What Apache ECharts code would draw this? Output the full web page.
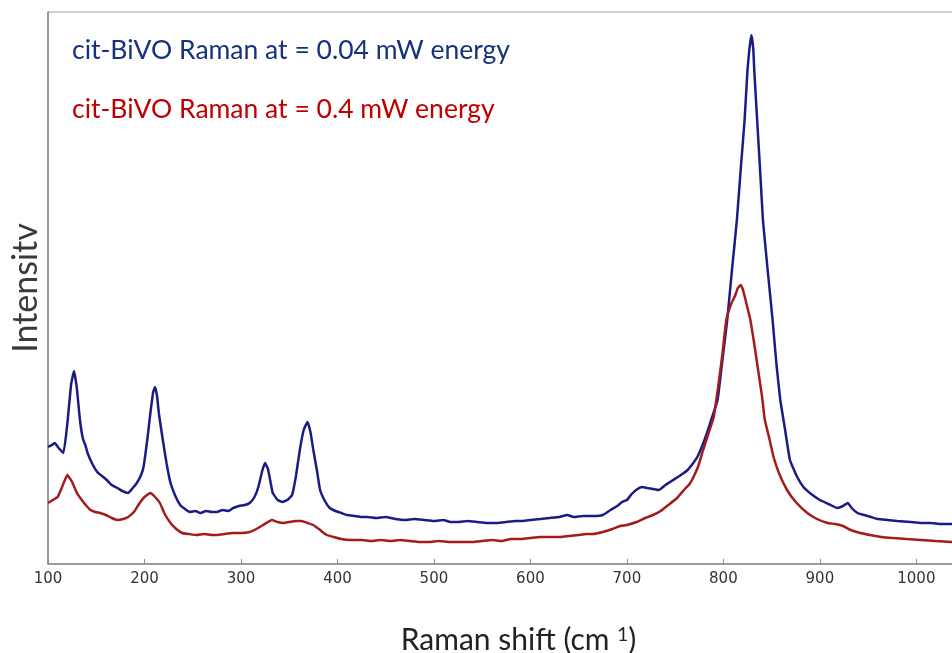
<!DOCTYPE html>
<html>
<head>
<meta charset="utf-8">
<title>cit-BiVO Raman spectra</title>
<script src="https://cdn.jsdelivr.net/npm/echarts@6/dist/echarts.min.js"></script>
<style>
  html, body { margin: 0; padding: 0; background: #ffffff; }
  #chart { width: 952px; height: 653px; }
</style>
</head>
<body>
<div id="chart"></div>
<script>
// Raman shift (cm-1) and intensity (a.u.) for the low-power spectrum (0.04 mW)
const lowShift = [100,104,107,111,116,120,124,127,130,133,136,139,141,146,151,156,161,166,172,177,183,187,192,196,199,203,206,209,211,213,215,219,223,227,232,237,242,247,253,258,264,270,275,281,287,292,298,304,309,314,318,322,325,328,331,333,338,343,348,353,357,361,365,369,372,375,379,382,387,392,398,404,410,418,425,431,440,450,460,470,480,490,500,510,517,525,535,545,555,566,575,585,592,600,610,620,630,638,645,655,665,675,683,690,695,700,705,711,716,721,727,733,740,748,756,763,768,773,778,783,788,794,799,804,809,814,818,822,825,827,829,831,832,835,838,841,846,851,855,859,864,869,876,883,891,900,909,918,924,929,933,939,946,953,960,970,980,994,1005,1015,1025,1037];
const lowCounts = [117,119,121,116,111,140,180,193,175,145,126,118,111,100,92,88,84,79,76,73,71,75,81,88,97,125,150,172,177,168,150,124,100,81,68,59,55,52,53,51,53,52,52,54,53,56,58,59,61,67,77,93,101,95,80,71,64,62,64,69,88,114,134,142,132,114,92,74,63,56,53,51,49,48,47,47,46,47,45,44,45,44,43,44,42,42,43,42,41,41,42,43,43,44,45,46,47,49,47,48,48,49,54,58,62,64,70,75,77,76,75,74,79,84,89,94,100,107,118,131,146,164,204,244,295,344,395,444,494,515,529,515,494,444,395,344,293,244,200,164,134,104,88,77,70,64,60,56,58,61,56,51,49,47,45,44,43,42,41,41,40,40];

// Raman shift (cm-1) and intensity (a.u.) for the high-power spectrum (0.4 mW)
const highShift = [100,105,110,115,120,125,130,135,140,144,149,154,160,166,172,178,183,189,195,200,206,211,216,221,227,233,239,246,254,262,270,275,283,291,300,309,316,323,328,332,338,344,350,357,363,369,375,382,389,396,404,413,425,435,445,455,465,475,485,495,505,517,530,540,550,560,570,580,590,600,610,621,631,640,650,658,665,675,685,693,700,710,719,727,735,743,752,760,765,769,774,779,784,790,795,799,803,808,812,815,818,820,822,824,828,832,836,840,843,848,852,858,866,875,887,897,908,916,924,932,942,952,964,976,990,1005,1020,1037];
const highCounts = [61,64,67,78,89,82,71,64,58,54,52,51,49,46,44,45,47,52,61,67,71,67,61,50,41,35,31,30,29,30,29,29,30,31,31,32,35,39,42,44,42,41,42,43,43,41,39,34,29,27,25,24,24,23,24,23,24,23,22,22,23,22,22,22,23,24,23,25,25,26,27,27,27,28,29,30,30,32,35,38,39,42,46,49,53,59,66,75,80,87,98,114,129,147,180,210,244,260,268,276,279,275,268,260,244,220,194,168,144,124,107,90,74,62,51,45,41,40,38,34,31,29,27,26,25,24,23,22];

// Axis settings
const shiftMin = 100;
const shiftMax = 1038;
const shiftStep = 100;
const countsMax = 552;

const seriesNames = ['cit-BiVO Raman at = 0.04 mW energy', 'cit-BiVO Raman at = 0.4 mW energy'];
const lineColors = ['#1b1b86', '#a31c1c'];
const labelColors = ['#14337a', '#c00000'];

const pairs = (xs, ys) => xs.map((x, i) => [x, ys[i]]);

const chart = echarts.init(document.getElementById('chart'), null, { renderer: 'canvas' });

chart.setOption({
  animation: false,
  backgroundColor: '#ffffff',
  grid: {
    left: 48, right: -1, top: 12, bottom: 89,
    outerBoundsMode: 'none',
    show: true, borderColor: '#a0a0a0', borderWidth: 1, backgroundColor: 'transparent'
  },
  legend: {
    orient: 'vertical',
    left: 62, top: 32,
    itemWidth: 0, itemHeight: 0, itemGap: 32,
    selectedMode: false,
    textStyle: { fontFamily: 'Lato', fontSize: 26.5 },
    data: seriesNames.map((n, i) => ({ name: n, icon: 'none', textStyle: { color: labelColors[i] } }))
  },
  xAxis: {
    type: 'value',
    min: shiftMin, max: shiftMax, interval: shiftStep,
    name: 'Raman shift (cm {s|1})',
    nameLocation: 'middle', nameGap: 61,
    nameTextStyle: {
      fontFamily: 'Lato', fontSize: 30, color: '#222',
      padding: [0, 0, 0, 36],
      rich: { s: { fontFamily: 'Lato', fontSize: 19, color: '#222', verticalAlign: 'top', padding: [0, 0, 12, 0] } }
    },
    axisLine: { show: true, lineStyle: { color: '#8a8a8a', width: 1.5 } },
    axisTick: { show: true, inside: true, length: 5, lineStyle: { color: '#8a8a8a' } },
    axisLabel: {
      showMaxLabel: false, margin: 8, fontFamily: 'DejaVu Sans', fontSize: 15, color: '#333',
      formatter: v => String(v)
    },
    splitLine: { show: false }
  },
  yAxis: {
    type: 'value',
    min: 0, max: countsMax,
    name: 'Intensitv',
    nameLocation: 'middle', nameGap: 5,
    nameTextStyle: { fontFamily: 'Lato', fontSize: 34, color: '#3a3a3a' },
    axisLine: { show: true, lineStyle: { color: '#8a8a8a', width: 1.5 } },
    axisTick: { show: false },
    axisLabel: { show: false },
    splitLine: { show: false }
  },
  series: [
    {
      name: seriesNames[0], type: 'line', data: pairs(lowShift, lowCounts),
      showSymbol: false, smooth: 0.12, color: lineColors[0],
      lineStyle: { color: lineColors[0], width: 2.5 }
    },
    {
      name: seriesNames[1], type: 'line', data: pairs(highShift, highCounts),
      showSymbol: false, smooth: 0.12, color: lineColors[1],
      lineStyle: { color: lineColors[1], width: 2.5 }
    }
  ]
});
</script>
</body>
</html>
